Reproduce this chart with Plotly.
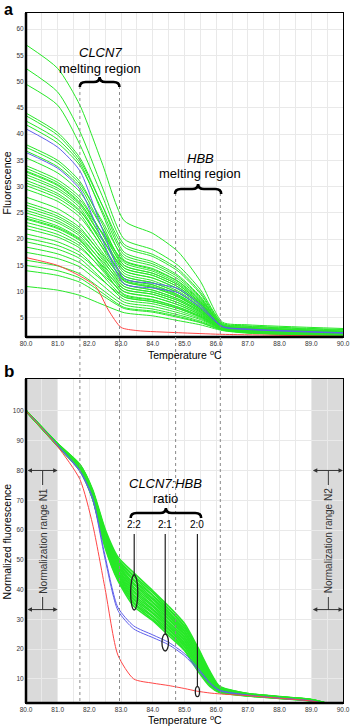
import plotly.graph_objects as go

# ---------------- data ----------------
# Panel a: raw fluorescence, sampled at key temperatures
TEMP_KEYS = [80.0, 81.0, 81.7, 82.4, 83.1, 84.0, 84.8, 85.5, 86.2, 87.0, 90.0]
TOP_GREEN = [
    [57.0, 52.5, 45.5, 34.5, 23.5, 21.1, 17.6, 12.0, 4.2, 3.7, 3.0],
    [52.5, 48.0, 40.5, 30.0, 20.0, 18.0, 15.0, 10.4, 4.0, 3.5, 2.8],
    [49.5, 45.5, 38.0, 28.3, 19.0, 17.1, 14.3, 9.9, 3.9, 3.4, 2.7],
    [44.0, 40.3, 35.5, 26.5, 17.5, 15.7, 13.1, 9.1, 3.7, 3.2, 2.5],
    [43.5, 39.8, 35.0, 26.5, 18.5, 16.7, 13.9, 9.6, 3.7, 3.2, 2.5],
    [42.5, 39.0, 34.5, 25.0, 16.0, 14.4, 12.0, 8.5, 3.7, 3.2, 2.5],
    [41.8, 38.3, 34.0, 25.5, 17.0, 15.3, 12.8, 8.9, 3.6, 3.1, 2.4],
    [38.0, 35.0, 31.0, 23.0, 15.0, 13.5, 11.3, 8.0, 3.5, 3.0, 2.3],
    [37.5, 34.5, 30.5, 23.5, 16.5, 14.9, 12.4, 8.7, 3.5, 3.0, 2.3],
    [36.8, 33.8, 30.0, 22.2, 14.5, 13.1, 10.9, 7.8, 3.5, 3.0, 2.3],
    [35.5, 32.6, 29.0, 22.2, 15.5, 13.9, 11.6, 8.2, 3.4, 2.9, 2.2],
    [34.0, 31.3, 28.0, 21.0, 14.0, 12.6, 10.5, 7.5, 3.4, 2.9, 2.2],
    [33.5, 30.8, 27.5, 21.2, 15.0, 13.5, 11.3, 7.9, 3.4, 2.9, 2.2],
    [33.0, 30.4, 27.0, 20.2, 13.5, 12.1, 10.1, 7.3, 3.4, 2.9, 2.2],
    [32.8, 30.2, 26.8, 21.3, 15.8, 14.2, 11.9, 8.3, 3.4, 2.9, 2.2],
    [32.3, 29.7, 26.5, 20.2, 14.0, 12.6, 10.5, 7.5, 3.3, 2.8, 2.1],
    [31.8, 29.3, 26.0, 19.2, 12.5, 11.3, 9.4, 6.8, 3.3, 2.8, 2.1],
    [31.2, 28.7, 25.5, 19.2, 13.0, 11.7, 9.8, 7.1, 3.3, 2.8, 2.1],
    [30.7, 28.3, 25.3, 19.9, 14.5, 13.1, 10.9, 7.7, 3.3, 2.8, 2.1],
    [30.2, 27.8, 24.8, 18.4, 12.0, 10.8, 9.0, 6.6, 3.3, 2.8, 2.1],
    [29.5, 27.2, 24.2, 18.6, 13.0, 11.7, 9.8, 7.0, 3.2, 2.7, 2.0],
    [28.0, 25.8, 23.0, 17.6, 12.2, 11.0, 9.2, 6.6, 3.2, 2.7, 2.0],
    [27.0, 24.9, 22.2, 16.9, 11.5, 10.3, 8.6, 6.3, 3.1, 2.6, 1.9],
    [26.5, 24.4, 21.8, 17.2, 12.5, 11.3, 9.4, 6.8, 3.1, 2.6, 1.9],
    [26.0, 24.0, 21.4, 16.2, 11.0, 9.9, 8.3, 6.1, 3.1, 2.6, 1.9],
    [25.5, 23.5, 21.0, 16.5, 12.0, 10.8, 9.0, 6.5, 3.1, 2.6, 1.9],
    [25.0, 23.1, 20.6, 15.5, 10.5, 9.5, 7.9, 5.9, 3.1, 2.6, 1.9],
    [24.4, 22.5, 20.1, 15.8, 11.5, 10.3, 8.6, 6.3, 3.0, 2.5, 1.8],
    [24.0, 22.2, 19.9, 14.6, 9.3, 8.4, 7.0, 5.3, 3.0, 2.5, 1.8],
    [23.8, 22.0, 19.7, 14.9, 10.0, 9.0, 7.5, 5.6, 3.0, 2.5, 1.8],
    [23.2, 21.5, 19.2, 15.1, 11.0, 9.9, 8.3, 6.1, 3.0, 2.5, 1.8],
    [22.6, 20.9, 18.7, 14.1, 9.5, 8.5, 7.1, 5.4, 3.0, 2.5, 1.8],
    [22.0, 20.4, 18.3, 14.4, 10.5, 9.5, 7.9, 5.8, 3.0, 2.5, 1.8],
    [21.0, 19.5, 17.5, 13.2, 9.0, 8.1, 6.8, 5.2, 2.9, 2.4, 1.7],
    [20.2, 18.8, 16.9, 13.4, 10.0, 9.0, 7.5, 5.6, 2.9, 2.4, 1.7],
    [19.5, 18.1, 16.3, 12.4, 8.5, 7.7, 6.4, 4.9, 2.9, 2.4, 1.7],
    [18.5, 17.2, 15.5, 12.2, 9.0, 8.1, 6.8, 5.1, 2.8, 2.3, 1.6],
    [17.5, 16.3, 14.7, 11.3, 8.0, 7.2, 6.0, 4.7, 2.8, 2.3, 1.6],
    [16.0, 14.9, 13.4, 10.4, 7.5, 6.7, 5.6, 4.4, 2.8, 2.3, 1.6],
    [15.0, 14.0, 12.6, 9.8, 7.0, 6.3, 5.3, 4.2, 2.7, 2.2, 1.5],
    [14.0, 13.1, 11.8, 9.3, 6.8, 6.1, 5.1, 4.1, 2.7, 2.2, 1.5],
    [11.0, 10.3, 9.3, 7.6, 6.0, 5.4, 4.5, 3.7, 2.6, 2.1, 1.5],
]
TOP_BLUE = [
    [41.0, 37.5, 33.0, 22.0, 12.5, 11.6, 10.6, 7.5, 3.4, 2.9, 2.2],
    [36.5, 33.5, 29.5, 20.0, 11.5, 10.7, 9.8, 7.0, 3.3, 2.8, 2.1],
]
RED_KEYS = [80.0, 81.0, 81.7, 82.2, 82.6, 83.0, 83.5, 84.8, 86.1, 87.0, 90.0]
TOP_RED = [16.5, 15.0, 13.0, 11.0, 6.5, 3.2, 2.6, 2.2, 1.9, 1.8, 1.5]

# Panel b: normalized fluorescence
NORM_KEYS = [80.0, 81.0, 81.7, 82.1, 82.5, 82.9, 83.4, 84.0, 84.5, 85.0, 85.4, 85.8, 86.1, 87.0, 88.0, 89.0, 90.0]
NORM_GREEN = [
    [100, 89.0, 82.0, 73.6, 60.2, 51.0, 45.6, 39.6, 34.4, 28.6, 21.0, 12.6, 7.6, 5.1, 4.1, 3.1, 0.4],
    [100, 88.9, 81.8, 73.2, 59.5, 50.3, 44.7, 39.0, 33.6, 27.8, 20.6, 12.1, 7.3, 5.1, 4.0, 3.1, 0.4],
    [100, 88.9, 81.9, 73.1, 59.4, 49.9, 44.3, 38.1, 33.3, 27.5, 19.9, 11.9, 7.3, 5.0, 4.0, 3.0, 0.4],
    [100, 88.8, 81.6, 72.9, 58.9, 49.7, 43.4, 37.9, 32.5, 26.9, 19.7, 11.5, 7.1, 5.0, 4.0, 3.0, 0.4],
    [100, 88.8, 81.5, 72.8, 58.6, 49.0, 43.0, 37.1, 32.1, 26.2, 19.0, 11.4, 7.0, 4.9, 3.9, 3.0, 0.3],
    [100, 88.7, 81.4, 72.7, 58.1, 48.7, 42.1, 36.7, 31.4, 25.9, 18.7, 10.9, 6.9, 4.9, 3.9, 3.0, 0.3],
    [100, 88.7, 81.3, 72.4, 57.9, 48.1, 41.7, 35.9, 31.0, 25.2, 18.1, 10.8, 6.8, 4.8, 3.9, 2.9, 0.3],
    [100, 88.7, 81.2, 72.2, 57.6, 47.8, 40.9, 35.5, 30.3, 24.9, 17.8, 10.4, 6.7, 4.8, 3.8, 2.9, 0.3],
    [100, 88.6, 81.1, 72.1, 57.1, 47.1, 40.4, 34.7, 29.9, 24.2, 17.1, 10.2, 6.6, 4.7, 3.8, 2.9, 0.3],
    [100, 88.6, 80.9, 71.9, 56.9, 46.9, 39.6, 34.3, 29.1, 23.8, 16.9, 9.8, 6.4, 4.7, 3.8, 2.9, 0.3],
    [100, 88.5, 80.8, 71.8, 56.4, 46.2, 39.1, 33.5, 28.7, 23.1, 16.2, 9.6, 6.3, 4.6, 3.7, 2.8, 0.3],
    [100, 88.5, 80.7, 71.5, 56.2, 45.9, 38.3, 33.1, 28.0, 22.8, 15.9, 9.2, 6.2, 4.6, 3.7, 2.8, 0.3],
    [100, 88.4, 80.6, 71.4, 55.7, 45.3, 37.8, 32.3, 27.6, 22.1, 15.3, 9.0, 6.1, 4.5, 3.7, 2.8, 0.3],
    [100, 88.4, 80.5, 71.1, 55.5, 45.0, 37.0, 31.9, 26.9, 21.7, 15.0, 8.7, 6.0, 4.5, 3.6, 2.8, 0.2],
    [100, 88.3, 80.4, 71.0, 54.9, 44.3, 36.5, 31.1, 26.5, 21.0, 14.3, 8.4, 5.9, 4.4, 3.6, 2.7, 0.2],
    [100, 88.3, 80.2, 70.8, 54.8, 44.1, 35.7, 30.8, 25.7, 20.7, 14.1, 8.1, 5.7, 4.4, 3.6, 2.7, 0.2],
    [100, 88.2, 80.1, 70.7, 54.3, 43.4, 35.3, 30.0, 25.4, 19.9, 13.4, 7.8, 5.6, 4.3, 3.5, 2.7, 0.2],
    [100, 88.2, 80.0, 70.5, 54.0, 43.0, 34.4, 29.6, 24.6, 19.6, 13.0, 7.5, 5.5, 4.3, 3.5, 2.6, 0.2],
]
NORM_BLUE = [
    [100, 88.5, 80.0, 71.0, 51.0, 34.0, 27.8, 24.8, 22.3, 18.5, 14.0, 8.8, 6.3, 4.6, 3.6, 2.7, 0.3],
    [100, 88.3, 79.6, 70.4, 50.0, 33.0, 26.8, 23.9, 21.5, 17.8, 13.4, 8.5, 6.1, 4.5, 3.5, 2.6, 0.2],
]
NORM_RED = [100, 88.0, 77.0, 62.0, 40.0, 18.0, 10.0, 8.6, 7.8, 6.8, 5.9, 5.3, 5.0, 4.4, 3.5, 2.6, 0.2]

X_TICKS = [80.0, 81.0, 82.0, 83.0, 84.0, 85.0, 86.0, 87.0, 88.0, 89.0, 90.0]
X_TICK_LABELS = ["80.0", "81.0", "82.0", "83.0", "84.0", "85.0", "86.0", "87.0", "88.0", "89.0", "90.0"]
Y1_TICKS = [5, 10, 15, 20, 25, 30, 35, 40, 45, 50, 55, 60]
Y2_TICKS = [10, 20, 30, 40, 50, 60, 70, 80, 90, 100]

# ---------------- geometry helpers ----------------
W, H = 358, 727
ML, MR, MT, MB = 26, 8, 13, 24
PW, PH = W - ML - MR, H - MT - MB
X_RANGE = [80.0, 90.0]
Y1_RANGE = [1.38, 63.05]
Y2_RANGE = [1.94, 110.7]


def PX(px):
    return (px - ML) / PW


def PY(py):
    return (H - MB - py) / PH


def TX(t):
    return (t - X_RANGE[0]) / (X_RANGE[1] - X_RANGE[0])


D1 = [PY(337), 1.0]
D2 = [0.0, PY(379)]

FONT = "Liberation Sans, Arial, sans-serif"
GREEN = "rgb(40,232,40)"
BLUE = "rgb(95,95,235)"
RED = "rgb(255,70,70)"
SMOOTH = 0.65

fig = go.Figure()


def add(xs, ys, color, ax, width=1.0):
    fig.add_trace(go.Scatter(
        x=xs, y=ys, mode="lines", xaxis=ax[0], yaxis=ax[1],
        line=dict(color=color, width=width, shape="spline", smoothing=SMOOTH),
        hoverinfo="skip", showlegend=False))


for row in TOP_GREEN:
    add(TEMP_KEYS, row, GREEN, ("x", "y"))
for row in TOP_BLUE:
    add(TEMP_KEYS, row, BLUE, ("x", "y"))
add(RED_KEYS, TOP_RED, RED, ("x", "y"))

for row in NORM_GREEN:
    add(NORM_KEYS, row, GREEN, ("x2", "y2"), 1.6)
for row in NORM_BLUE:
    add(NORM_KEYS, row, BLUE, ("x2", "y2"))
add(NORM_KEYS, NORM_RED, RED, ("x2", "y2"))

axis_common = dict(
    showline=True, linecolor="black", linewidth=1, mirror=True, ticks="",
    showgrid=True, gridcolor="#e9e9e9", gridwidth=1, zeroline=False,
    tickfont=dict(size=6.5, color="#333333", family=FONT),
)
xaxis_common = dict(
    range=X_RANGE, tickmode="array", tickvals=X_TICKS, ticktext=X_TICK_LABELS,
    minor=dict(tickmode="linear", tick0=80, dtick=0.5, showgrid=True, gridcolor="#e9e9e9", ticks=""),
    **axis_common,
)

fig.update_layout(
    width=W, height=H, margin=dict(l=ML, r=MR, t=MT, b=MB),
    paper_bgcolor="white", plot_bgcolor="white", showlegend=False,
    xaxis=dict(domain=[0, 1], anchor="y", **xaxis_common),
    yaxis=dict(domain=D1, anchor="x", range=Y1_RANGE, tickmode="array", tickvals=Y1_TICKS, **axis_common),
    xaxis2=dict(domain=[0, 1], anchor="y2", **xaxis_common),
    yaxis2=dict(domain=D2, anchor="x2", range=Y2_RANGE, tickmode="array", tickvals=Y2_TICKS, **axis_common),
)

shapes = []
# gray normalisation ranges
for a, b in [(80.0, 81.0), (89.0, 90.0)]:
    shapes.append(dict(type="rect", xref="x2", yref="y2", x0=a, x1=b, y0=Y2_RANGE[0], y1=Y2_RANGE[1],
                       fillcolor="#dadada", line=dict(width=0), layer="below"))
# thick left / bottom axis lines
for d in (D1, D2):
    shapes.append(dict(type="line", xref="paper", yref="paper", x0=0, x1=0, y0=d[0], y1=d[1],
                       line=dict(color="black", width=2.5)))
    shapes.append(dict(type="line", xref="paper", yref="paper", x0=0, x1=1, y0=d[0], y1=d[0],
                       line=dict(color="black", width=2.5)))
# dotted guide lines running through both panels
for t, ytop in [(81.7, 86), (82.95, 86), (84.72, 193), (86.13, 193)]:
    shapes.append(dict(type="line", xref="paper", yref="paper", x0=TX(t), x1=TX(t), y0=PY(ytop), y1=0,
                       line=dict(color="#8a8a8a", width=1, dash="dot")))


def brace(x0, x1, y, peak=5, tip=5, r=6):
    xm = (x0 + x1) / 2
    p = lambda x, yy: f"{PX(x):.5f},{PY(yy):.5f}"
    return (f"M {p(x0, y + tip)} Q {p(x0, y)} {p(x0 + r, y)} L {p(xm - r, y)} "
            f"Q {p(xm, y)} {p(xm, y - peak)} Q {p(xm, y)} {p(xm + r, y)} "
            f"L {p(x1 - r, y)} Q {p(x1, y)} {p(x1, y + tip)}")


for x0, x1, y in [(81, 121.5, 82), (178.3, 225.5, 189), (133, 205, 513)]:
    shapes.append(dict(type="path", xref="paper", yref="paper", path=brace(x0, x1, y),
                       line=dict(color="black", width=2.6)))

# ratio pointer lines and ellipses
for xc, ytop, yc, w, h in [(136.6, 534, 592.5, 7.3, 35), (168.3, 534, 642.5, 6.7, 17), (201.2, 534, 691.7, 4.3, 10)]:
    shapes.append(dict(type="line", xref="paper", yref="paper", x0=PX(xc), x1=PX(xc),
                       y0=PY(ytop), y1=PY(yc - h / 2), line=dict(color="#222", width=1.2)))
    shapes.append(dict(type="circle", xref="paper", yref="paper", x0=PX(xc - w / 2), x1=PX(xc + w / 2),
                       y0=PY(yc + h / 2), y1=PY(yc - h / 2), line=dict(color="#222", width=1.3)))

# normalisation range marker ticks
for xc in (43, 335):
    for ya, yb in [(471, 485), (597, 610)]:
        shapes.append(dict(type="line", xref="paper", yref="paper", x0=PX(xc), x1=PX(xc),
                           y0=PY(ya), y1=PY(yb), line=dict(color="#333", width=1)))

fig.update_layout(shapes=shapes)

ann = []


def text(px, py, s, size=13, angle=0, bold=False, color="black"):
    ann.append(dict(xref="paper", yref="paper", x=PX(px), y=PY(py), text=(f"<b>{s}</b>" if bold else s),
                    showarrow=False, xanchor="center", yanchor="middle", textangle=angle,
                    font=dict(family=FONT, size=size, color=color)))


text(8.5, 9, "a", 16, bold=True)
text(9, 372, "b", 17, bold=True)
text(7, 183, "Fluorescence", 10.5, angle=-90)
text(7, 541, "Normalized fluorescence", 10.5, angle=-90)
text(188, 354, "Temperature <sup>o</sup>C", 10.5)
text(188, 719, "Temperature <sup>o</sup>C", 10.5)
text(102, 52, "<i>CLCN7</i>", 13)
text(102, 68, "melting region", 13)
text(204, 158, "<i>HBB</i>", 13)
text(204, 174, "melting region", 13)
text(169, 483, "<i>CLCN7:HBB</i>", 13)
text(169, 498, "ratio", 13)
text(136.6, 524, "2:2", 10)
text(168.3, 524, "2:1", 10)
text(201.2, 524, "2:0", 10)
text(43, 541, "Normalization range N1", 10, angle=-90, color="#333")
text(335, 541, "Normalization range N2", 10, angle=-90, color="#333")

for a, b in [(80.0, 81.0), (89.0, 90.0)]:
    for yv in (80.0, 33.3):
        ann.append(dict(xref="x2", yref="y2", axref="x2", ayref="y2", x=b, y=yv, ax=a, ay=yv, text="",
                        showarrow=True, arrowside="end+start", arrowhead=2, arrowsize=0.9,
                        arrowwidth=1, arrowcolor="#333", standoff=0, startstandoff=0))

fig.update_layout(annotations=ann)

fig.write_html("out.html", config={"displayModeBar": False},
               post_script="document.body.style.margin='0px';")
